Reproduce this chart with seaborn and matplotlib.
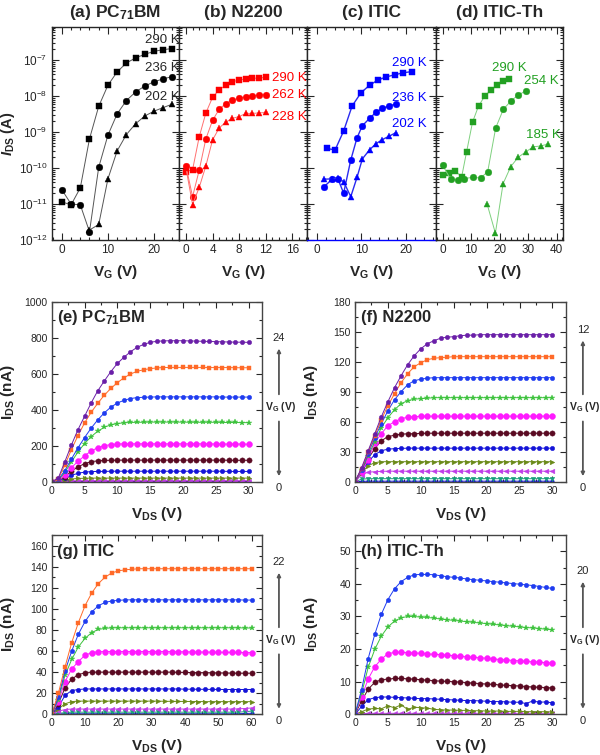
#!/usr/bin/env python3

# Import libraries
import matplotlib
matplotlib.use("Agg")
import matplotlib.pyplot as plt
from matplotlib.ticker import MultipleLocator, LogLocator, NullFormatter
import seaborn as sns


# ---- transfer curves (top row), I_DS in A ----
a_vg = [0, 2, 4, 6, 8, 10, 12, 14, 16, 18, 20, 22, 24]
a_290 = [1.15e-11, 9.5e-12, 2.8e-11, 6.5e-10, 5.2e-9, 2.0e-8, 4.7e-8, 8.3e-8, 1.15e-7, 1.45e-7, 1.75e-7, 1.95e-7, 2.1e-7]
a_236 = [2.5e-11, 1.0e-11, 9.5e-12, 1.7e-12, 1.05e-10, 8.2e-10, 3.2e-9, 7.5e-9, 1.3e-8, 1.9e-8, 2.5e-8, 3.0e-8, 3.5e-8]
a_vg_202 = [6, 8, 10, 12, 14, 16, 18, 20, 22, 24]
a_202 = [1.9e-12, 2.7e-12, 5.0e-11, 3.0e-10, 8.5e-10, 1.7e-9, 2.8e-9, 3.8e-9, 4.8e-9, 6.0e-9]

b_vg = [0, 1, 2, 3, 4, 5, 6, 7, 8, 9, 10, 11, 12]
b_290 = [8e-11, 9e-11, 7.4e-10, 3.4e-9, 9.2e-9, 1.5e-8, 2.0e-8, 2.5e-8, 2.8e-8, 3.0e-8, 3.1e-8, 3.2e-8, 3.3e-8]
b_262 = [1.15e-10, 1.6e-11, 8.8e-11, 6.5e-10, 2.1e-9, 4.3e-9, 6.2e-9, 7.7e-9, 8.7e-9, 9.6e-9, 1.02e-8, 1.07e-8, 1.1e-8]
b_228 = [1.0e-10, 9.7e-12, 2.9e-11, 1.15e-10, 6.0e-10, 1.3e-9, 1.9e-9, 2.4e-9, 2.7e-9, 3.3e-9, 3.3e-9, 3.4e-9, 3.5e-9]

c_vg_290 = [2.2, 4.1, 6.0, 7.9, 9.9, 11.8, 13.7, 15.5, 17.4, 19.4, 21.3]
c_290 = [3.5e-10, 3.2e-10, 1.07e-9, 5.3e-9, 1.24e-8, 2.0e-8, 2.8e-8, 3.4e-8, 3.9e-8, 4.45e-8, 4.8e-8]
c_vg = [1.6, 3.4, 4.7, 6.0, 7.6, 9.0, 10.2, 11.8, 13.2, 14.7, 16.2, 17.7]
c_236 = [3.0e-11, 4.9e-11, 5.1e-11, 2.0e-11, 1.67e-10, 6.9e-10, 1.5e-9, 2.4e-9, 3.5e-9, 4.6e-9, 5.3e-9, 6.0e-9]
c_202 = [4.9e-11, 5.0e-11, 5.3e-11, 4.2e-11, 1.6e-11, 5.5e-11, 1.8e-10, 3.2e-10, 4.7e-10, 6.2e-10, 7.7e-10, 9.6e-10]

d_vg_290 = [0, 2.2, 4.3, 6.7, 8.4, 10.5, 12.6, 14.7, 17.0, 19.2, 21.3, 23.4]
d_290 = [6.6e-11, 7.5e-11, 8.3e-11, 5.8e-11, 2.8e-10, 1.9e-9, 5.3e-9, 9.8e-9, 1.5e-8, 2.0e-8, 2.55e-8, 3.0e-8]
d_vg_254 = [0, 2.8, 5.3, 7.6, 10.5, 13.3, 15.8, 18.6, 21.3, 24.0, 26.5, 29.2]
d_254 = [1.2e-10, 4.9e-11, 4.6e-11, 5.1e-11, 5.5e-11, 5.3e-11, 7.9e-11, 1.3e-9, 4.3e-9, 7.4e-9, 1.07e-8, 1.4e-8]
d_vg_185 = [15.6, 18.5, 21.2, 23.9, 26.5, 29.1, 31.8, 34.4, 37.1]
d_185 = [1.0e-11, 1.55e-12, 3.7e-11, 1.1e-10, 2.0e-10, 2.8e-10, 3.9e-10, 4.1e-10, 4.7e-10]

# ---- output curves (bottom rows), I_DS in nA ----
vds_30 = [0, 1, 2, 3, 4, 5, 6, 7, 8, 9, 10, 11, 12, 13, 14, 15, 16, 17, 18, 19, 20,
          21, 22, 23, 24, 25, 26, 27, 28, 29, 30]
vds_60 = [0, 2, 4, 6, 8, 10, 12, 14, 16, 18, 20, 22, 24, 26, 28, 30, 32, 34, 36, 38, 40,
          42, 44, 46, 48, 50, 52, 54, 56, 58, 60]

e_purple = [0, 20, 111, 204, 289, 363, 437, 504, 559, 611, 657, 691, 722, 746, 763, 774, 780, 782, 783, 783, 783, 782, 781, 780, 779, 778, 777, 776, 775, 775, 774]
e_orange = [0, 16, 92, 178, 256, 326, 385, 435, 480, 518, 550, 577, 598, 613, 622, 628, 632, 634, 635, 635, 635, 635, 635, 635, 634, 634, 634, 634, 633, 633, 633]
e_blue = [0, 12, 62, 126, 188, 245, 297, 343, 382, 414, 437, 452, 462, 467, 469, 470, 471, 471, 471, 471, 471, 471, 471, 471, 471, 471, 470, 470, 470, 470, 470]
e_green = [0, 8, 52, 110, 165, 212, 250, 280, 302, 316, 323, 327, 329, 330, 330, 331, 331, 331, 331, 331, 331, 330, 330, 330, 330, 330, 329, 329, 329, 328, 328]
e_magenta = [0, 5, 38, 78, 113, 144, 170, 189, 200, 206, 209, 210, 210, 210, 210, 210, 210, 210, 210, 210, 210, 210, 210, 210, 210, 209, 209, 209, 209, 209, 208]
e_wine = [0, 3, 28, 58, 82, 100, 111, 116, 118, 119, 120, 120, 120, 120, 120, 120, 120, 120, 120, 120, 120, 120, 120, 120, 120, 120, 120, 119, 119, 119, 119]
e_navy = [0, 2, 18, 35, 47, 53, 56, 57, 57, 58, 58, 58, 58, 58, 58, 58, 58, 58, 58, 58, 58, 58, 58, 58, 58, 58, 58, 57, 57, 57, 57]
e_olive = [0, 1, 9, 15, 18, 19, 20, 20, 20, 20, 20, 20, 20, 20, 20, 20, 20, 20, 20, 20, 20, 20, 20, 20, 20, 20, 20, 20, 20, 20, 20]
e_violet = [0, 0.5, 3, 5, 6, 6, 6, 6, 6, 6, 6, 6, 6, 6, 6, 6, 6, 6, 6, 6, 6, 6, 6, 6, 6, 6, 6, 6, 6, 6, 6]
e_low = [0, 0.2, 0.5, 1, 1, 1, 1, 1, 1, 1, 1, 1, 1, 1, 1, 1, 1, 1, 1, 1, 1, 1, 1, 1, 1, 1, 1, 1, 1, 1, 1]

f_purple = [0, 14, 31, 48, 65, 80, 94, 106, 117, 126, 133, 138, 141, 143.5, 144.5, 145, 146, 146.5, 146.5, 147, 147, 147, 147, 147, 147, 147, 147, 147, 147, 147, 147]
f_orange = [0, 13, 30, 46, 62, 76, 88, 99, 108, 115, 119, 122, 123.5, 124, 124.5, 125, 125, 125, 125, 125, 125, 125, 125, 125, 125, 125, 125, 125, 125, 125, 125]
f_blue = [0, 12, 28, 44, 58, 71, 82, 90, 97, 101, 102.5, 103.5, 104, 104, 104, 104, 104, 104, 104, 104, 104, 104, 104, 104, 104, 104, 104, 104, 104, 104, 104]
f_green = [0, 12, 26, 40, 54, 64, 72, 78, 81, 82.5, 83, 83.5, 84, 84, 84, 84, 84, 84, 84, 84, 84, 84, 84, 84, 84, 84, 84, 84, 84, 84, 84]
f_magenta = [0, 10, 22, 39, 48, 56, 60, 63, 64.5, 65, 65.3, 65.5, 65.5, 65.5, 65.5, 65.5, 65.5, 65.5, 65.5, 65.5, 65.5, 65.5, 65.5, 65.5, 65.5, 65.5, 65.5, 65.5, 65.5, 65.5, 65.5]
f_wine = [0, 12, 23, 33, 41, 45, 46.5, 47.5, 48, 48, 48.3, 48.5, 48.5, 48.5, 48.5, 48.5, 48.5, 48.5, 48.5, 48.5, 48.5, 48.5, 48.5, 48.5, 48.5, 48.5, 48.5, 48.5, 48.5, 48.5, 48.5]
f_navy = [0, 10, 20, 27, 31, 32.5, 33, 33.3, 33.5, 33.5, 33.5, 33.5, 33.5, 33.5, 33.5, 33.5, 33.5, 33.5, 33.5, 33.5, 33.5, 33.5, 33.5, 33.5, 33.5, 33.5, 33.5, 33.5, 33.5, 33.5, 33.5]
f_olive = [0, 9, 16, 19, 20, 20, 20, 20, 20, 20, 20, 20, 20, 20, 20, 20, 20, 20, 20, 20, 20, 20, 20, 20, 20, 20, 20, 20, 20, 20, 20]
f_violet = [0, 7, 9.5, 10, 10.3, 10.5, 10.5, 10.5, 10.5, 10.5, 10.5, 10.5, 10.5, 10.5, 10.5, 10.5, 10.5, 10.5, 10.5, 10.5, 10.5, 10.5, 10.5, 10.5, 10.5, 10.5, 10.5, 10.5, 10.5, 10.5, 10.5]
f_teal = [0, 2.5, 3, 3, 3, 3, 3, 3, 3, 3, 3, 3, 3, 3, 3, 3, 3, 3, 3, 3, 3, 3, 3, 3, 3, 3, 3, 3, 3, 3, 3]
f_low = [0, 0.3, 0.5, 0.5, 0.5, 0.5, 0.5, 0.5, 0.5, 0.5, 0.5, 0.5, 0.5, 0.5, 0.5, 0.5, 0.5, 0.5, 0.5, 0.5, 0.5, 0.5, 0.5, 0.5, 0.5, 0.5, 0.5, 0.5, 0.5, 0.5, 0.5]

g_orange = [0, 20, 45, 68, 87, 103, 115, 124, 130, 134, 136, 137, 137.5, 138, 138, 138, 138, 138, 138, 138, 138, 138, 138, 138, 138, 138, 138, 138, 138, 138, 138]
g_blue = [0, 16, 41, 60, 76, 88, 97, 103, 106, 107.5, 108, 108.5, 108.5, 108.5, 108.5, 108.5, 108.5, 108.5, 108.5, 108.5, 108.5, 108.5, 108.5, 108.5, 108.5, 108.5, 108.5, 108.5, 108.5, 108.3, 108.3]
g_green = [0, 14, 37, 52, 64, 72, 77.5, 80.5, 81.5, 82, 82, 82, 82, 82, 82, 82, 82, 82, 82, 82, 82, 82, 82, 82, 82, 82, 82, 82, 82, 81.8, 81.8]
g_magenta = [0, 12, 31, 43, 50, 56, 58.5, 59.3, 59.5, 59.5, 59.5, 59.5, 59.5, 59.5, 59.5, 59.5, 59.5, 59.5, 59.4, 59.3, 59.2, 59.1, 59, 59, 58.9, 58.8, 58.8, 58.7, 58.6, 58.5, 58.5]
g_wine = [0, 10, 25, 33.5, 37.5, 39.5, 40, 40, 40, 40, 40, 40, 40, 40, 40, 40, 40, 40, 40, 39.8, 39.7, 39.6, 39.5, 39.5, 39.4, 39.3, 39.2, 39.1, 39, 39, 39]
g_navy = [0, 7, 18, 22.5, 23.5, 24, 24, 24, 24, 24, 24, 24, 24, 24, 24, 24, 24, 24, 24, 24, 23.8, 23.8, 23.7, 23.7, 23.6, 23.6, 23.5, 23.5, 23.5, 23.5, 23.5]
g_olive = [0, 5, 10, 12, 12.5, 12.5, 12.5, 12.5, 12.5, 12.5, 12.5, 12.5, 12.5, 12.5, 12.5, 12.5, 12.5, 12.3, 12.3, 12.2, 12.2, 12.1, 12.1, 12, 12, 12, 12, 12, 12, 12, 12]
g_violet = [0, 3, 4.5, 5, 5, 5, 5, 5, 5, 5, 5, 5, 5, 5, 5, 5, 5, 5, 5, 5, 5, 5, 5, 5, 5, 5, 5, 5, 5.2, 5.5, 6]
g_teal = [0, 1, 1.5, 2, 2, 2, 2, 2, 2, 2, 2, 2, 2, 2, 2, 2, 2, 2, 2, 2, 2, 2, 2, 2, 2, 2, 2, 2, 2, 2.5, 3]
g_low = [0, 0.3, 0.5, 0.5, 0.5, 0.5, 0.5, 0.5, 0.5, 0.5, 0.5, 0.5, 0.5, 0.5, 0.5, 0.5, 0.5, 0.5, 0.5, 0.5, 0.5, 0.5, 0.5, 0.5, 0.5, 0.5, 0.5, 0.5, 0.5, 0.8, 1]

h_blue = [0, 7.6, 17.1, 24.5, 30.7, 35.2, 38.5, 40.7, 42, 42.8, 42.9, 42.9, 42.8, 42.5, 42.2, 42, 41.8, 41.5, 41.3, 41.1, 40.9, 40.7, 40.5, 40.3, 40.1, 39.9, 39.7, 39.5, 39.2, 38.9, 38.6]
h_green = [0, 6.4, 14.4, 19.9, 24, 26.8, 28.6, 29.6, 30, 30, 29.8, 29.7, 29.5, 29.2, 29, 28.8, 28.6, 28.4, 28.2, 28, 27.8, 27.6, 27.4, 27.2, 27, 26.8, 26.6, 26.5, 26.3, 26.1, 25.9]
h_magenta = [0, 5.4, 10.8, 14.6, 16.9, 18.6, 19, 19, 18.9, 18.8, 18.7, 18.5, 18.4, 18.3, 18.1, 18, 17.8, 17.6, 17.5, 17.3, 17.2, 17, 16.8, 16.7, 16.5, 16.4, 16.2, 16.1, 16, 15.8, 15.7]
h_wine = [0, 4.1, 7.7, 9.8, 10.6, 10.8, 11, 11, 10.9, 10.8, 10.6, 10.5, 10.3, 10.2, 10.1, 10, 9.9, 9.7, 9.6, 9.4, 9.3, 9.2, 9.0, 8.9, 8.8, 8.7, 8.5, 8.4, 8.3, 8.2, 8.1]
h_navy = [0, 2.4, 4.5, 5.1, 5.3, 5.3, 5.2, 5.1, 5.0, 4.9, 4.8, 4.8, 4.7, 4.6, 4.5, 4.4, 4.3, 4.2, 4.2, 4.1, 4.0, 3.9, 3.9, 3.8, 3.7, 3.7, 3.3, 4.1, 3.7, 3.8, 3.5]
h_olive = [0, 0.8, 1.6, 1.8, 1.7, 2.6, 2.0, 2.9, 1.5, 2.2, 2.0, 1.9, 1.5, 1.4, 1.3, 1.3, 1.2, 1.2, 1.1, 1.1, 1.0, 1.0, 1.0, 0.9, 0.9, 0.9, 0.8, 0.8, 0.8, 0.8, 0.7]
h_violet = [0, 0.2, 0.3, 0.3, 0.3, 0.3, 0.3, 0.3, 0.3, 0.3, 0.3, 0.3, 0.3, 0.3, 0.3, 0.3, 0.3, 0.3, 0.3, 0.3, 0.3, 0.3, 0.3, 0.3, 0.3, 0.3, 0.3, 0.3, 0.3, 0.3, 0.3]

# Origin-like colours
PURPLE = "#6a1fa8"
ORANGE = "#ff6a28"
BLUE = "#1f3cf0"
GREEN = "#3cc23c"
MAGENTA = "#ff1aff"
WINE = "#5a0a22"
NAVY = "#1414d8"
OLIVE = "#6b8a1a"
VIOLET = "#c03ce8"
TEAL = "#17a07a"


def curve(ax, x, y, color, marker, ms=3.2, line=None, lw=0.7):
    ''' One series, drawn with seaborn. '''
    sns.lineplot(x=x, y=y, ax=ax, color=line or color, linewidth=lw,
                 marker=marker, markersize=ms, markerfacecolor=color,
                 markeredgecolor=color, markeredgewidth=0.3,
                 estimator=None, sort=False, legend=False)


def style_top(ax, xlim, major, minor):
    ax.set_yscale("log")
    ax.set_ylim(1e-12, 8.3e-7)
    ax.set_xlim(*xlim)
    ax.xaxis.set_major_locator(MultipleLocator(major))
    ax.xaxis.set_minor_locator(MultipleLocator(minor))
    ax.yaxis.set_major_locator(LogLocator(base=10, numticks=12))
    ax.yaxis.set_minor_locator(LogLocator(base=10, subs=range(2, 10), numticks=12))
    ax.yaxis.set_minor_formatter(NullFormatter())
    ax.tick_params(which="both", direction="in", top=True, right=True, width=0.8)
    ax.tick_params(which="major", length=5, labelsize=8.5, pad=3)
    ax.tick_params(which="minor", length=2.5)
    ax.set_xlabel(r"V$_\mathbf{G}$ (V)", fontsize=11, fontweight="bold")
    ax.xaxis.set_label_coords(0.5, -0.11)
    ax.set_ylabel("")
    for s in ax.spines.values():
        s.set_linewidth(1.0)


def style_bottom(ax, xlim, xmaj, ylim, ymaj, label, vg_top, t):
    ax.set_xlim(*xlim)
    ax.set_ylim(*ylim)
    ax.xaxis.set_major_locator(MultipleLocator(xmaj))
    ax.xaxis.set_minor_locator(MultipleLocator(xmaj / 2))
    ax.yaxis.set_major_locator(MultipleLocator(ymaj))
    ax.yaxis.set_minor_locator(MultipleLocator(ymaj / 2))
    ax.tick_params(which="both", direction="in", top=True, right=True, width=0.8)
    ax.tick_params(which="major", length=4, labelsize=7.5, pad=3)
    ax.tick_params(which="minor", length=2)
    ax.set_xlabel(r"V$_\mathbf{DS}$ (V)", fontsize=11, fontweight="bold")
    ax.set_ylabel(r"I$_\mathbf{DS}$ (nA)", fontsize=11, fontweight="bold")
    ax.xaxis.set_label_coords(0.5, -0.128)
    ax.yaxis.set_label_coords(-0.165, 0.5)
    ax.text(0.027, 0.91, label, transform=ax.transAxes, ha="left", va="center",
            fontsize=12, fontweight="bold")
    for s in ax.spines.values():
        s.set_linewidth(1.0)
        s.set_color("#444444")
    # V_G arrow annotation on the right
    ax.text(1.082, t, vg_top, transform=ax.transAxes, ha="center", va="center", fontsize=8)
    ax.annotate("", xy=(1.082, t - 0.045), xytext=(1.082, 0.47), xycoords="axes fraction",
                arrowprops=dict(arrowstyle="-|>", color="#555555", lw=1.3, mutation_scale=5),
                annotation_clip=False)
    ax.text(1.09, 0.415, r"V$_\mathbf{G}$ (V)", transform=ax.transAxes, ha="center",
            va="center", fontsize=7.5, fontweight="bold")
    ax.annotate("", xy=(1.082, 0.015), xytext=(1.082, 0.35), xycoords="axes fraction",
                arrowprops=dict(arrowstyle="-|>", color="#555555", lw=1.3, mutation_scale=5),
                annotation_clip=False)
    ax.text(1.082, -0.035, "0", transform=ax.transAxes, ha="center", va="center", fontsize=8)


def main():
    sns.set_style("ticks")
    plt.rcParams["font.family"] = ["Liberation Sans", "DejaVu Sans"]
    plt.rcParams["mathtext.fontset"] = "custom"
    plt.rcParams["mathtext.rm"] = "Liberation Sans"
    plt.rcParams["mathtext.it"] = "Liberation Sans:italic"
    plt.rcParams["mathtext.bf"] = "Liberation Sans:bold"
    plt.rcParams["mathtext.bfit"] = "Liberation Sans:italic:bold"

    fig = plt.figure(figsize=(6, 7.55), dpi=100)

    # ---------------- top row ----------------
    y0, hh = 0.6821, 0.2821
    axa = fig.add_axes([0.0862, y0, 0.2127, hh])
    axb = fig.add_axes([0.2988, y0, 0.2128, hh])
    axc = fig.add_axes([0.5117, y0, 0.2150, hh])
    axd = fig.add_axes([0.7267, y0, 0.2117, hh])

    grey = "#555555"
    curve(axa, a_vg, a_290, "black", "s", 4.5, grey)
    curve(axa, a_vg, a_236, "black", "o", 4.8, grey)
    curve(axa, a_vg_202, a_202, "black", "^", 5, grey)
    red_line = "#ff7070"
    curve(axb, b_vg, b_290, "#ff0000", "s", 4.5, red_line)
    curve(axb, b_vg, b_262, "#ff0000", "o", 4.8, red_line)
    curve(axb, b_vg, b_228, "#ff0000", "^", 5, red_line)
    curve(axc, c_vg_290, c_290, "#0000ff", "s", 4.5, "#2a2af0", 1.0)
    curve(axc, c_vg, c_236, "#0000ff", "o", 4.8, "#2a2af0", 1.0)
    curve(axc, c_vg, c_202, "#0000ff", "^", 5, "#2a2af0", 1.0)
    gcol = "#22a022"
    curve(axd, d_vg_290, d_290, gcol, "s", 4.5, "#7fd07f")
    curve(axd, d_vg_254, d_254, gcol, "o", 4.8, "#7fd07f")
    curve(axd, d_vg_185, d_185, gcol, "^", 5, "#7fd07f")

    style_top(axa, (-2.2, 25.5), 10, 2)
    style_top(axb, (-1.0, 18.2), 4, 1)
    style_top(axc, (-2.2, 26.7), 10, 2)
    style_top(axd, (-2.3, 42.2), 10, 2)
    for ax in (axb, axc, axd):
        ax.tick_params(labelleft=False)
    axc.spines["bottom"].set_color("blue")

    axa.set_ylabel(r"$\mathbfit{I}_\mathbf{DS}$ (A)", fontsize=10.5, fontweight="bold")
    axa.yaxis.set_label_coords(-0.27, 0.5)

    titles = [(axa, r"(a) PC$_\mathbf{71}$BM"), (axb, "(b) N2200"),
              (axc, "(c) ITIC"), (axd, "(d) ITIC-Th")]
    for ax, t in titles:
        ax.set_title(t, fontsize=12.5, fontweight="bold", pad=7)

    tk = dict(fontsize=9.5, va="center")
    axa.text(1.0, 0.939, "290 K", transform=axa.transAxes, ha="right", **tk)
    axa.text(1.0, 0.808, "236 K", transform=axa.transAxes, ha="right", **tk)
    axa.text(1.0, 0.671, "202 K", transform=axa.transAxes, ha="right", **tk)
    axb.text(0.726, 0.76, "290 K", transform=axb.transAxes, ha="left", color="#ff0000", **tk)
    axb.text(0.726, 0.68, "262 K", transform=axb.transAxes, ha="left", color="#ff0000", **tk)
    axb.text(0.726, 0.577, "228 K", transform=axb.transAxes, ha="left", color="#ff0000", **tk)
    axc.text(0.93, 0.831, "290 K", transform=axc.transAxes, ha="right", color="#0000ff", **tk)
    axc.text(0.93, 0.667, "236 K", transform=axc.transAxes, ha="right", color="#0000ff", **tk)
    axc.text(0.93, 0.545, "202 K", transform=axc.transAxes, ha="right", color="#0000ff", **tk)
    axd.text(0.575, 0.808, "290 K", transform=axd.transAxes, ha="center", color=gcol, **tk)
    axd.text(0.827, 0.746, "254 K", transform=axd.transAxes, ha="center", color=gcol, **tk)
    axd.text(0.846, 0.493, "185 K", transform=axd.transAxes, ha="center", color=gcol, **tk)

    # ---------------- output curves ----------------
    axe = fig.add_axes([0.0862, 0.362, 0.350, 0.2384])
    axf = fig.add_axes([0.5917, 0.362, 0.351, 0.2384])
    axg = fig.add_axes([0.0862, 0.0539, 0.350, 0.2375])
    axh = fig.add_axes([0.5917, 0.0539, 0.351, 0.2375])

    e_series = [(e_low, PURPLE, "o", 2.5), (e_violet, VIOLET, "<", 3.2), (e_olive, OLIVE, ">", 3.4),
                (e_navy, NAVY, "o", 3.2), (e_wine, WINE, "o", 3.8), (e_magenta, MAGENTA, "o", 4.3),
                (e_green, GREEN, "*", 4.2), (e_blue, BLUE, "o", 3.2), (e_orange, ORANGE, "s", 3.0),
                (e_purple, PURPLE, "o", 3.2)]
    for y, c, m, ms in e_series:
        curve(axe, vds_30, y, c, m, ms)

    f_series = [(f_low, NAVY, "o", 2.5), (f_teal, TEAL, "v", 3.2), (f_violet, VIOLET, "<", 3.4),
                (f_olive, OLIVE, ">", 3.4), (f_navy, NAVY, "o", 3.2), (f_wine, WINE, "o", 3.8),
                (f_magenta, MAGENTA, "o", 4.3), (f_green, GREEN, "*", 4.2), (f_blue, BLUE, "o", 3.2),
                (f_orange, ORANGE, "s", 3.0), (f_purple, PURPLE, "o", 3.2)]
    for y, c, m, ms in f_series:
        curve(axf, vds_30, y, c, m, ms)

    g_series = [(g_low, NAVY, "o", 2.5), (g_teal, TEAL, "v", 3.2), (g_violet, VIOLET, "<", 3.4),
                (g_olive, OLIVE, ">", 3.4), (g_navy, NAVY, "o", 3.2), (g_wine, WINE, "o", 3.8),
                (g_magenta, MAGENTA, "o", 4.3), (g_green, GREEN, "*", 4.2), (g_blue, BLUE, "o", 3.2),
                (g_orange, ORANGE, "s", 3.0)]
    for y, c, m, ms in g_series:
        curve(axg, vds_60, y, c, m, ms)

    h_series = [(h_violet, VIOLET, "<", 3.0), (h_olive, OLIVE, ">", 3.4), (h_navy, NAVY, "o", 3.2),
                (h_wine, WINE, "o", 3.8), (h_magenta, MAGENTA, "o", 4.3), (h_green, GREEN, "*", 4.2),
                (h_blue, BLUE, "o", 3.2)]
    for y, c, m, ms in h_series:
        curve(axh, vds_30, y, c, m, ms)

    style_bottom(axe, (0, 32), 5, (0, 1000), 200, r"(e) PC$_\mathbf{71}$BM", "24", 0.80)
    style_bottom(axf, (0, 32), 5, (0, 180), 30, "(f) N2200", "12", 0.845)
    style_bottom(axg, (0, 63), 10, (0, 170), 20, "(g) ITIC", "22", 0.85)
    style_bottom(axh, (0, 32), 5, (0, 55), 10, "(h) ITIC-Th", "20", 0.80)

    fig.savefig("out.png", dpi=100)


if __name__ == '__main__':
    main()
